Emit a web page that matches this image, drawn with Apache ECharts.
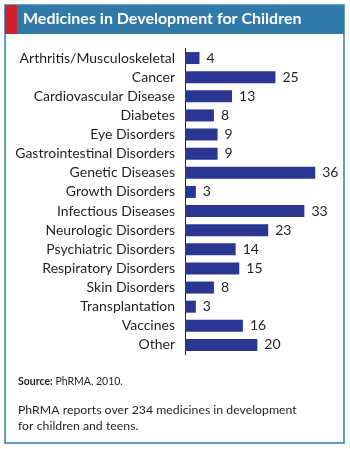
<!DOCTYPE html>
<html>
<head>
<meta charset="utf-8">
<script src="https://cdn.jsdelivr.net/npm/echarts@6/dist/echarts.min.js"></script>
<style>
  html, body { margin: 0; padding: 0; background: #fff; }
  #main { width: 350px; height: 449px; }
</style>
</head>
<body>
<div id="main"></div>
<script>
var categories = ['Arthritis/Musculoskeletal', 'Cancer', 'Cardiovascular Disease', 'Diabetes',
  'Eye Disorders', 'Gastrointestinal Disorders', 'Genetic Diseases', 'Growth Disorders',
  'Infectious Diseases', 'Neurologic Disorders', 'Psychiatric Disorders', 'Respiratory Disorders',
  'Skin Disorders', 'Transplantation', 'Vaccines', 'Other'];
var medicines = [4, 25, 13, 8, 9, 9, 36, 3, 33, 23, 14, 15, 8, 3, 16, 20];

var chart = echarts.init(document.getElementById('main'));
var font = 'Lato';

var option = {
  animation: false,
  textStyle: { fontFamily: font },
  graphic: [
    // outer frame
    { type: 'rect', shape: { x: 5, y: 5, width: 339, height: 438 },
      style: { fill: 'none', stroke: '#2f7fb5', lineWidth: 1.5 } },
    // header band
    { type: 'rect', shape: { x: 5, y: 5, width: 339, height: 29 },
      style: { fill: '#2f7aa8' } },
    { type: 'rect', shape: { x: 5, y: 5, width: 12, height: 29 },
      style: { fill: '#d0202e' } },
    { type: 'text', left: 23, top: 11,
      style: { text: 'Medicines in Development for Children', fill: '#fff',
        font: 'bold 16px Lato' } },
    // notes
    { type: 'text', left: 18, top: 376,
      style: { text: '{b|Source:} PhRMA, 2010.', fill: '#231f20', fontFamily: font, fontSize: 10.5,
        rich: { b: { fontWeight: 'bold', fontSize: 10.5, fontFamily: font, fill: '#231f20' } } } },
    { type: 'text', left: 18, top: 402,
      style: { text: 'PhRMA reports over 234 medicines in development\nfor children and teens.',
        fill: '#231f20', fontFamily: font, fontSize: 12.3, lineHeight: 16 } }
  ],
  grid: { left: 185, top: 48.5, width: 144.7, height: 306 },
  xAxis: {
    type: 'value', min: 0, max: 40, show: false
  },
  yAxis: {
    type: 'category', data: categories, inverse: true,
    axisLine: { lineStyle: { color: '#231f20', width: 1 } },
    axisTick: { show: false },
    axisLabel: { color: '#231f20', fontSize: 14, margin: 10, fontFamily: font }
  },
  series: [{
    type: 'bar', data: medicines, barWidth: 12,
    itemStyle: { color: '#2b3592' },
    label: { show: true, position: 'right', distance: 7, color: '#231f20', fontSize: 14, fontFamily: font }
  }]
};
chart.setOption(option);
</script>
</body>
</html>
